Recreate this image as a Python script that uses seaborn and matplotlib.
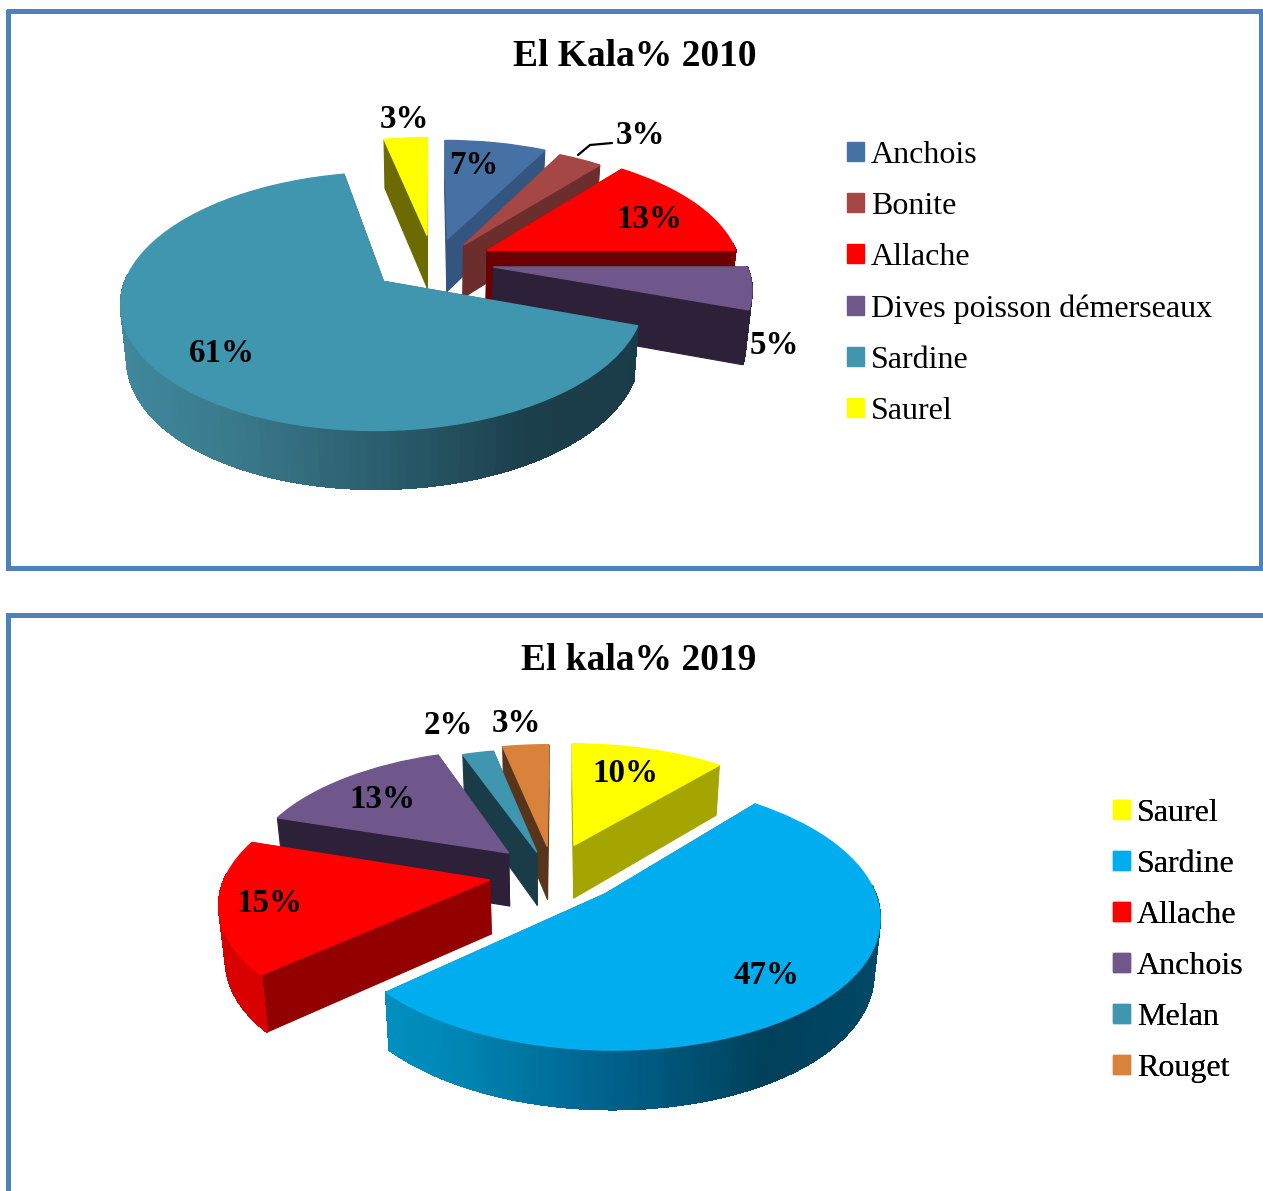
import numpy as np
import matplotlib
matplotlib.use('Agg')
import matplotlib.pyplot as plt
import seaborn as sns
from matplotlib.patches import Patch
from matplotlib.transforms import Transform

# valeurs
noms_2010 = ['Anchois', 'Bonite', 'Allache', 'Dives poisson démerseaux', 'Sardine', 'Saurel']
vals_2010 = [7, 3, 13, 5, 61, 3]
noms_2019 = ['Saurel', 'Sardine', 'Allache', 'Anchois', 'Melan', 'Rouget']
vals_2019 = [10, 47, 15, 13, 2, 3]

# couleurs: dessus, flanc, bord courbe
style_2010 = {
    'Anchois': ('#4671a5', '#33557f', ['#33557f']),
    'Bonite': ('#a54744', '#6c2e2c', ['#6c2e2c']),
    'Allache': ('#ff0000', '#6b0000', ['#7a0000']),
    'Dives poisson démerseaux': ('#6f578c', '#2d2139', ['#2d2139']),
    'Sardine': ('#4096ae', '#1a3c48', ['#418a9f', '#3a7a8d', '#2b5f6f', '#1b3f4b', '#1a3c48']),
    'Saurel': ('#ffff00', '#6b6b00', ['#6b6b00']),
}
style_2019 = {
    'Saurel': ('#ffff00', '#a5a500', ['#a5a500']),
    'Sardine': ('#00aeef', '#003f5c', ['#0098cc', '#0086b3', '#00608a', '#00405a', '#004a68']),
    'Allache': ('#ff0000', '#930000', ['#d90000']),
    'Anchois': ('#6f578c', '#2d2139', ['#2d2139']),
    'Melan': ('#4096ae', '#1a3c48', ['#1a3c48']),
    'Rouget': ('#d9823c', '#57341a', ['#57341a']),
}
# decalage de chaque part (eclatement)
ecart_2010 = [(.07, .136), (.136, .085), (.23, .04), (.25, -.10), (-.18, -.216), (-.012, .17)]
ecart_2019 = [(.055, .04), (.167, -.352), (-.264, -.245), (-.2, -.025), (-.09, -.02), (-.05, .03)]

W, H = 1263, 1191
K = 0.15
PROF = 53


class Perspective(Transform):
    input_dims = output_dims = 2

    def __init__(self, cx, cy, rx, ry):
        super().__init__()
        self.cx, self.cy, self.rx, self.ry = cx, cy, rx, ry

    def transform_non_affine(self, values):
        values = np.asarray(values, dtype=float)
        s = 1 / (1 + K * values[:, 1])
        return np.column_stack([self.cx + self.rx * values[:, 0] * s,
                                self.cy - self.ry * values[:, 1] * s])


def quad(ax, pts, color, z, aa=True):
    ax.fill(pts[:, 0], pts[:, 1], color=color, lw=0.8, zorder=z, clip_on=False, antialiased=aa)


def mur(proj, u, v):
    haut = proj.transform(np.column_stack([u, v]))
    s = 1 / (1 + K * np.asarray(v))
    bas = np.column_stack([proj.cx + (haut[:, 0] - proj.cx) * 0.98,
                           haut[:, 1] + PROF * np.sqrt(s)])
    return np.vstack([haut, bas[::-1]])


def camembert(ax, noms, vals, ecarts, styles, cx, cy, rx):
    proj = Perspective(cx, cy, rx, 118)
    wedges, _ = ax.pie(vals, startangle=90, counterclock=False, radius=1)
    # ordre: du fond vers l'avant
    ordre = sorted(range(len(vals)), key=lambda i: -(np.sin(np.radians((wedges[i].theta1 + wedges[i].theta2) / 2)) + ecarts[i][1]))
    for rang, i in enumerate(ordre):
        w = wedges[i]
        dx, dy = ecarts[i]
        top, flanc, bord = styles[noms[i]]
        z = 3 + 3 * rang
        w.set_center((dx, dy))
        w.set_facecolor(top)
        # bord de la couleur du dessus, pour cacher les flancs du fond
        w.set_edgecolor(top)
        w.set_linewidth(1.0)
        w.set_zorder(z + 2)
        w.set_clip_on(False)
        w.set_transform(proj + ax.transData)

        # flancs droits
        for th in (w.theta1, w.theta2):
            u = [dx, dx + np.cos(np.radians(th))]
            v = [dy, dy + np.sin(np.radians(th))]
            quad(ax, mur(proj, u, v), flanc, z)

        # bord courbe avec degrade
        angles = np.linspace(w.theta1, w.theta2, max(int((w.theta2 - w.theta1) / 1.5), 2) + 1)
        pal = sns.blend_palette(bord, n_colors=100) if len(bord) > 1 else bord * 100
        for j in range(len(angles) - 1):
            a = np.radians(angles[j:j + 2])
            if np.sin(a.mean()) > 0.05:
                continue
            u = dx + np.cos(a)
            v = dy + np.sin(a)
            # degrade de gauche a droite
            x_rel = (np.cos(a.mean()) + 1) / 2
            coul = pal[int(x_rel * 99)]
            quad(ax, mur(proj, u, v), coul, z + 1, aa=False)


sns.set_theme(style='white')
plt.rcParams['font.family'] = ['Liberation Serif', 'DejaVu Serif']

fig = plt.figure(figsize=(W / 100, H / 100), dpi=100)
ax = fig.add_axes([0, 0, 1, 1])

camembert(ax, noms_2010, vals_2010, ecart_2010, style_2010, 430, 255, 250)
camembert(ax, noms_2019, vals_2019, ecart_2019, style_2019, 560, 850, 256)

ax.set_aspect('auto')
ax.set_xlim(0, W)
ax.set_ylim(H, 0)
ax.axis('off')

# cadres
bleu = '#4f81bd'
ax.plot([8, 1261, 1261, 8, 8], [11, 11, 568, 568, 11], color=bleu, lw=3.6, zorder=1, solid_joinstyle='miter')
ax.plot([8, 8, 1270], [1200, 615, 615], color=bleu, lw=3.6, zorder=1, solid_joinstyle='miter')

ax.text(635, 56, 'El Kala% 2010', ha='center', va='center', fontsize=27, fontweight='bold', color='black')
ax.text(639, 660, 'El kala% 2019', ha='center', va='center', fontsize=27, fontweight='bold', color='black')

# etiquettes de pourcentage
pos_2010 = [(474, 166), (640, 136), (649, 220), (774, 346), (222, 354), (404, 120)]
pos_2019 = [(625, 774), (766, 976), (269, 904), (382, 800), (448, 726), (516, 724)]
for vals, pos in ((vals_2010, pos_2010), (vals_2019, pos_2019)):
    for v, (x, y) in zip(vals, pos):
        ax.text(x, y, f'{v}%', ha='center', va='center', fontsize=23.8, fontweight='bold',
                color='black', zorder=50)
ax.plot([578, 590, 612], [155, 145, 143], color='black', lw=1.6, zorder=50)


def legende(noms, styles, x, y):
    handles = [Patch(color=styles[n][0], label=n) for n in noms]
    leg = ax.legend(handles=handles, loc='upper left', bbox_to_anchor=(x, y), bbox_transform=ax.transData,
                    frameon=False, fontsize=23, handlelength=0.53, handleheight=0.53, handletextpad=0.22,
                    labelspacing=0.69, borderaxespad=0, borderpad=0)
    leg.set_zorder(60)
    ax.add_artist(leg)
    for t in leg.get_texts():
        t.set_color('black')


legende(noms_2010, style_2010, 847, 141)
legende(noms_2019, style_2019, 1113, 799)

fig.savefig('out.png', dpi=100)
